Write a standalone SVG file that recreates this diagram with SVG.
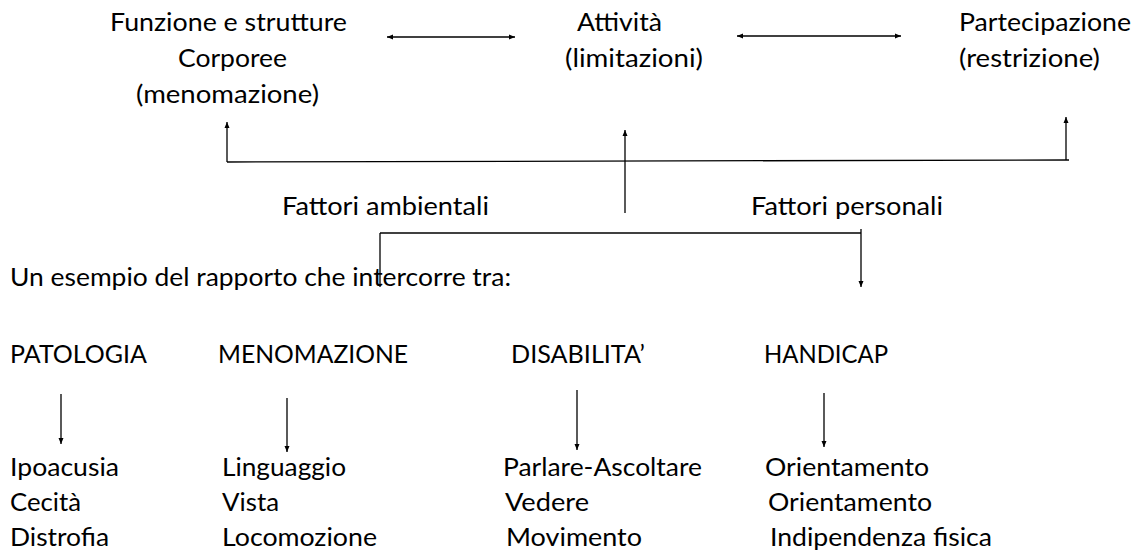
<svg xmlns="http://www.w3.org/2000/svg" width="1136" height="554" viewBox="0 0 1136 554">
<style>
text{font-family:Lato,"Liberation Sans",sans-serif;font-size:25px;fill:#000}
.c line{stroke:#000;stroke-width:1.3;fill:none}
</style>
<defs>
<marker id="ah" viewBox="0 0 6 6" refX="6" refY="3" markerWidth="6" markerHeight="6" markerUnits="userSpaceOnUse" orient="auto-start-reverse">
<path d="M0,0.5 L6,3 L0,5.5 Z" fill="#000"/>
</marker>
</defs>
<rect width="1136" height="554" fill="#fff"/>
<g id="n-funzione">
<text x="110" y="31" textLength="237" lengthAdjust="spacingAndGlyphs">Funzione e strutture</text>
<text x="178" y="67" textLength="109" lengthAdjust="spacingAndGlyphs">Corporee</text>
<text x="136" y="103" textLength="183" lengthAdjust="spacingAndGlyphs">(menomazione)</text>
</g>
<g id="n-attivita">
<text x="577" y="31" textLength="85" lengthAdjust="spacingAndGlyphs">Attività</text>
<text x="565" y="67" textLength="138" lengthAdjust="spacingAndGlyphs">(limitazioni)</text>
</g>
<g id="n-partecipazione">
<text x="959" y="31" textLength="172" lengthAdjust="spacingAndGlyphs">Partecipazione</text>
<text x="959" y="67" textLength="141" lengthAdjust="spacingAndGlyphs">(restrizione)</text>
</g>
<g id="n-ambientali"><text x="282" y="215" textLength="207" lengthAdjust="spacingAndGlyphs">Fattori ambientali</text></g>
<g id="n-personali"><text x="751" y="215" textLength="192" lengthAdjust="spacingAndGlyphs">Fattori personali</text></g>
<g id="n-esempio"><text x="10" y="286" textLength="501" lengthAdjust="spacingAndGlyphs">Un esempio del rapporto che intercorre tra:</text></g>
<g id="n-patologia">
<text x="10" y="363" textLength="137" lengthAdjust="spacingAndGlyphs">PATOLOGIA</text>
<text x="10" y="476" textLength="109" lengthAdjust="spacingAndGlyphs">Ipoacusia</text>
<text x="10" y="511" textLength="71" lengthAdjust="spacingAndGlyphs">Cecità</text>
<text x="10" y="546" textLength="99" lengthAdjust="spacingAndGlyphs">Distrofia</text>
</g>
<g id="n-menomazione">
<text x="218" y="363" textLength="190" lengthAdjust="spacingAndGlyphs">MENOMAZIONE</text>
<text x="222" y="476" textLength="124" lengthAdjust="spacingAndGlyphs">Linguaggio</text>
<text x="222" y="511" textLength="57" lengthAdjust="spacingAndGlyphs">Vista</text>
<text x="222" y="546" textLength="155" lengthAdjust="spacingAndGlyphs">Locomozione</text>
</g>
<g id="n-disabilita">
<text x="511" y="363" textLength="134" lengthAdjust="spacingAndGlyphs">DISABILITA’</text>
<text x="503" y="476" textLength="199" lengthAdjust="spacingAndGlyphs">Parlare-Ascoltare</text>
<text x="505" y="511" textLength="84" lengthAdjust="spacingAndGlyphs">Vedere</text>
<text x="506" y="546" textLength="136" lengthAdjust="spacingAndGlyphs">Movimento</text>
</g>
<g id="n-handicap">
<text x="764" y="363" textLength="124" lengthAdjust="spacingAndGlyphs">HANDICAP</text>
<text x="765" y="476" textLength="164" lengthAdjust="spacingAndGlyphs">Orientamento</text>
<text x="768" y="511" textLength="164" lengthAdjust="spacingAndGlyphs">Orientamento</text>
<text x="770" y="546" textLength="222" lengthAdjust="spacingAndGlyphs">Indipendenza fisica</text>
</g>
<g id="connectors" class="c">
<line x1="387" y1="37" x2="515" y2="37" marker-start="url(#ah)" marker-end="url(#ah)"/>
<line x1="737" y1="36" x2="901" y2="36" marker-start="url(#ah)" marker-end="url(#ah)"/>
<line x1="227" y1="162" x2="1069" y2="160"/>
<line x1="227" y1="162" x2="227" y2="122" marker-end="url(#ah)"/>
<line x1="1066" y1="160" x2="1066" y2="117" marker-end="url(#ah)"/>
<line x1="625" y1="213" x2="625" y2="130" marker-end="url(#ah)"/>
<line x1="380" y1="233" x2="861" y2="233"/>
<line x1="380" y1="233" x2="380" y2="287"/>
<line x1="861" y1="229" x2="861" y2="287" marker-end="url(#ah)"/>
<line x1="61" y1="394" x2="61" y2="444" marker-end="url(#ah)"/>
<line x1="287" y1="398" x2="287" y2="452" marker-end="url(#ah)"/>
<line x1="577" y1="390" x2="577" y2="450" marker-end="url(#ah)"/>
<line x1="824" y1="393" x2="824" y2="447" marker-end="url(#ah)"/>
</g>
</svg>
